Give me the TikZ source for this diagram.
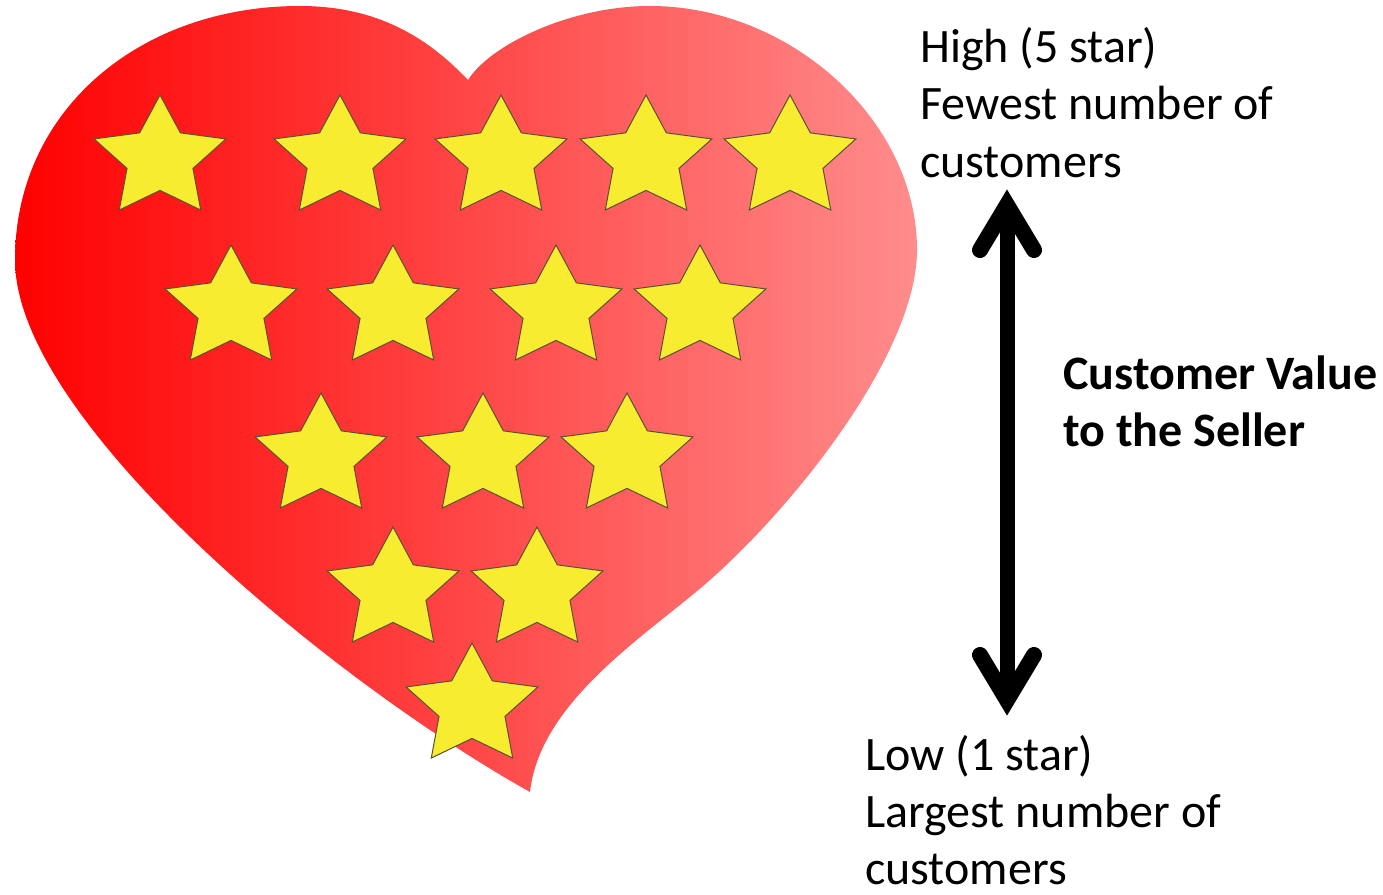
\documentclass[tikz,border=0pt]{standalone}
\usepackage{fontspec}
\setmainfont{Carlito}
\definecolor{heartL}{RGB}{255,0,0}
\definecolor{heartR}{RGB}{255,140,140}
\definecolor{starfill}{RGB}{247,236,47}
\definecolor{starline}{RGB}{90,80,50}
\tikzset{
  starshape/.pic={
    \draw[fill=starfill,draw=starline,line width=1pt,line join=miter]
      (0,-63.6) -- (-20.37,-25.73) -- (-65.93,-19.65) -- (-32.96,9.83) --
      (-40.74,51.45) -- (0,31.8) -- (40.74,51.45) -- (32.96,9.83) --
      (65.93,-19.65) -- (20.37,-25.73) -- cycle;
    \coordinate (-c) at (0,0);
  },
  lbl/.style={anchor=base west,inner sep=0pt,font=\fontsize{48}{58}\selectfont},
  boldlbl/.style={lbl,font=\fontsize{48}{58}\selectfont\bfseries},
  arrowline/.style={line width=16pt,black},
}
\begin{document}
\begin{tikzpicture}[x=1pt,y=-1pt]
\useasboundingbox (0,0) rectangle (1383,894);
% heart
\shade[left color=heartL,right color=heartR]
  (530,792) .. controls (330,680) and (15,420) .. (15,260)
  .. controls (15,110) and (140,6) .. (300,6)
  .. controls (380,6) and (430,40) .. (468,80)
  .. controls (490,45) and (570,6) .. (650,6)
  .. controls (790,6) and (917,120) .. (917,250)
  .. controls (917,350) and (800,500) .. (710,580)
  .. controls (650,633) and (540,700) .. (530,792) -- cycle;
% stars
\pic (s11) at (160,158.6) {starshape};
\pic (s12) at (340,158.6) {starshape};
\pic (s13) at (501,158.6) {starshape};
\pic (s14) at (646,158.6) {starshape};
\pic (s15) at (790,158.6) {starshape};
\pic (s21) at (231,308.6) {starshape};
\pic (s22) at (393,308.6) {starshape};
\pic (s23) at (556,308.6) {starshape};
\pic (s24) at (700,308.6) {starshape};
\pic (s31) at (321,456.6) {starshape};
\pic (s32) at (483,456.6) {starshape};
\pic (s33) at (627,456.6) {starshape};
\pic (s41) at (393,590.6) {starshape};
\pic (s42) at (537,590.6) {starshape};
\pic (s51) at (472,706.6) {starshape};
% arrow
\coordinate (atop) at (1007,205);
\coordinate (abot) at (1007,700);
\draw[line width=15pt] (atop) -- (abot);
\draw[arrowline,line cap=round,line join=miter]
  ([xshift=-27pt,yshift=-45pt]atop) -- (atop) -- ([xshift=27pt,yshift=-45pt]atop);
\draw[arrowline,line cap=round,line join=miter]
  ([xshift=-27pt,yshift=45pt]abot) -- (abot) -- ([xshift=27pt,yshift=45pt]abot);
% texts
\node[lbl] (h1) at (920,62) {High (5 star)};
\node[lbl] (h2) at (920,119.5) {Fewest number of};
\node[lbl] (h3) at (920,177) {customers};
\node[boldlbl] (m1) at (1063,389) {Customer Value};
\node[boldlbl] (m2) at (1063,446) {to the Seller};
\node[lbl] (l1) at (865,770) {Low (1 star)};
\node[lbl] (l2) at (865,827) {Largest number of};
\node[lbl] (l3) at (865,884) {customers};
\end{tikzpicture}
\end{document}
